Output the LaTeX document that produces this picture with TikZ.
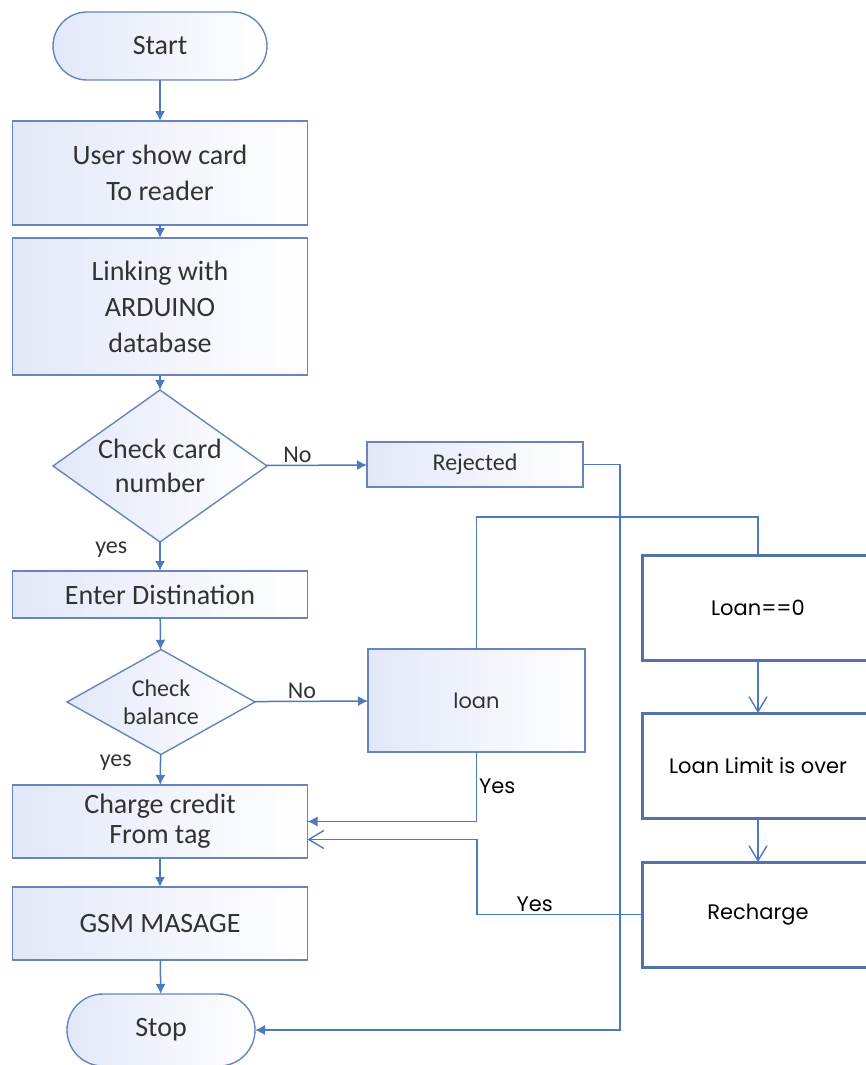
\documentclass[tikz,border=0pt]{standalone}
\usepackage{fontspec}
\setmainfont{Carlito}
\newfontfamily\gothic{Poppins}
\usetikzlibrary{shapes.geometric,arrows.meta}
\definecolor{boxedge}{RGB}{104,132,188}
\definecolor{boxfill}{RGB}{226,232,248}
\definecolor{linkblue}{RGB}{76,122,188}
\definecolor{loanedge}{RGB}{82,114,168}
\definecolor{textgrey}{RGB}{50,50,50}

\begin{document}
\begin{tikzpicture}[
      x=1pt, y=-1pt,
      >={Latex[length=10pt,width=10pt]},
      flowbox/.style={
          rectangle, draw=boxedge, line width=1.4pt,
          left color=boxfill, right color=white,
          text=textgrey, align=center, inner sep=0pt, outer sep=0pt,
          minimum width=295pt, font=\fontsize{28}{36}\selectfont
      },
      termbox/.style={flowbox, minimum width=214pt, minimum height=68pt, rounded corners=34pt},
      decision/.style={
          diamond, draw=boxedge, line width=1.4pt,
          left color=boxfill, right color=white,
          text=textgrey, align=center, inner sep=0pt, outer sep=0pt
      },
      loanbox/.style={
          rectangle, draw=loanedge, line width=3pt, fill=white,
          text=black, align=center, inner sep=0pt, outer sep=0pt,
          minimum width=232pt, minimum height=105pt,
          font=\gothic\fontsize{21}{26}\selectfont
      },
      flow/.style={->, draw=linkblue, line width=1.5pt},
      loop/.style={draw=linkblue, line width=1.2pt},
      openarrow/.style={-{Straight Barb[length=15pt,width=18pt]}, draw=linkblue, line width=1.4pt},
      edgelabel/.style={font=\fontsize{24}{28}\selectfont, text=textgrey, inner sep=2pt},
      yeslabel/.style={font=\gothic\fontsize{21}{26}\selectfont, text=black, inner sep=2pt}
  ]
    \clip (0,0) rectangle (866,1065);

    % Start terminator
    \node[termbox] (start) at (160,46) {Start};

    % left column boxes
    \node[flowbox, minimum height=104pt] (show) at (160,173) {User show card\\To reader};
    \node[flowbox, minimum height=137pt] (link) at (160,306.5) {Linking with\\ARDUINO\\database};

    % first decision
    \node[decision, minimum width=214pt, minimum height=152pt, aspect=1.41,
          font=\fontsize{28}{34}\selectfont] (cardchk) at (160,466) {Check card\\number};

    % Rejected (to the right of the decision)
    \node[flowbox, minimum width=216pt, minimum height=45pt,
          font=\fontsize{24}{28}\selectfont] (rej) at (475,464.5) {Rejected};

    \node[flowbox, minimum height=47pt] (dest) at (160,594.5) {Enter Distination};

    % second decision
    \node[decision, minimum width=188pt, minimum height=105pt, aspect=1.79,
          font=\fontsize{24}{28}\selectfont] (balchk) at (161,702) {Check\\balance};

    % loan box
    \node[flowbox, minimum width=217pt, minimum height=103pt,
          font=\gothic\fontsize{21}{26}\selectfont] (loan) at (476.5,700.5) {loan};

    \node[flowbox, minimum height=73pt, font=\fontsize{28}{30}\selectfont] (charge) at (160,821.5) {Charge credit\\From tag};
    \node[flowbox, minimum height=73pt] (gsm) at (160,923.5) {GSM MASAGE};

    % Stop terminator
    \node[termbox, minimum width=188pt, minimum height=72pt, rounded corners=36pt] (stop) at (161,1030) {Stop};

    % right column
    \node[loanbox] (zero) at (758,607.5) {Loan==0};
    \node[loanbox] (limit) at (758,765.5) {Loan Limit is over};
    \node[loanbox] (recharge) at (758,914.5) {Recharge};

    % Edges
    \draw[flow] (start) -- (show);
    \draw[flow] (show) -- (link);
    \draw[flow] (link) -- (cardchk);
    \draw[flow] (cardchk) -- node[edgelabel, above, pos=0.31] {No} (rej);
    \draw[flow] (cardchk) -- node[edgelabel, left=30pt, pos=0.25] {yes} (dest);
    \draw[flow] (dest) -- (balchk);
    \draw[flow] (balchk) -- node[edgelabel, above, pos=0.42] {No} (loan);
    \draw[flow] (balchk) -- node[edgelabel, left=26pt, pos=0.27] {yes} (charge);
    \draw[flow] (charge) -- (gsm);
    \draw[flow] (gsm) -- (stop);

    \draw[loop, ->] (rej.east) -- ++(37,0) |- (stop.east);
    \draw[loop] (loan.north) -- ++(0,-132) -| (zero.north);
    \draw[loop, ->] (loan.south) |- node[yeslabel, right, pos=0.25] {Yes} (charge.east);
    \draw[openarrow] (zero) -- (limit);
    \draw[openarrow] (limit) -- (recharge);
    \draw[openarrow] (recharge.west) -- node[yeslabel, above, pos=0.65] {Yes} ++(-165,0)
        |- ([yshift=-18pt]charge.east);
  \end{tikzpicture}
\end{document}
